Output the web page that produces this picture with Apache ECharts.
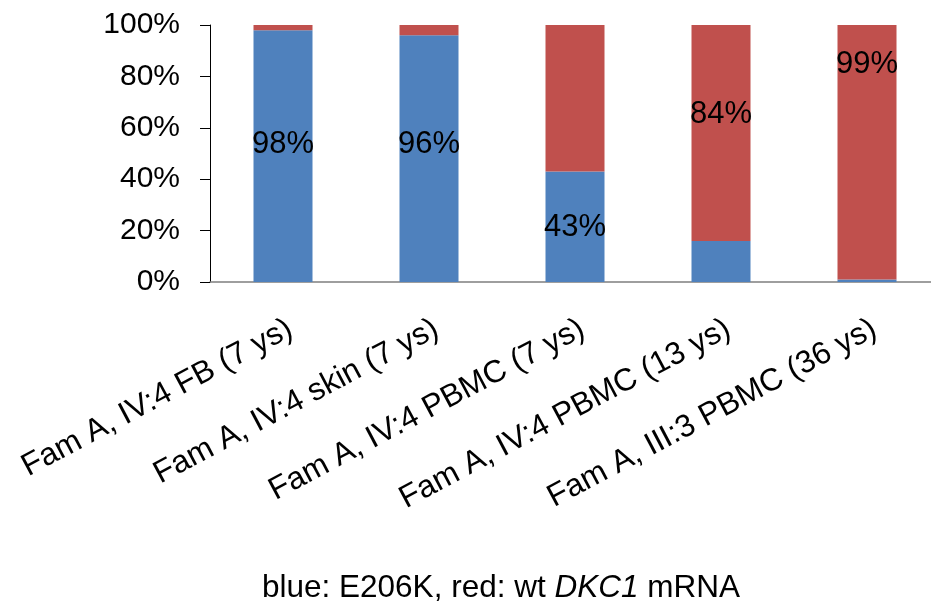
<!DOCTYPE html>
<html>
<head>
<meta charset="utf-8">
<script src="https://cdn.jsdelivr.net/npm/echarts@6/dist/echarts.min.js"></script>
<style>
  html, body { margin: 0; padding: 0; background: #ffffff; overflow: hidden; }
  #chart { width: 940px; height: 604px; }
</style>
</head>
<body>
<div id="chart"></div>
<script>
// Sample groups (x axis)
const categories = [
  'Fam A, IV:4 FB (7 ys)',
  'Fam A, IV:4 skin (7 ys)',
  'Fam A, IV:4 PBMC (7 ys)',
  'Fam A, IV:4 PBMC (13 ys)',
  'Fam A, III:3 PBMC (36 ys)'
];
// Share of E206K transcripts (blue), percent
const mutantShare = [98, 96, 43, 16, 1];
// Share of wild-type DKC1 transcripts (red), percent
const wildTypeShare = [2, 4, 57, 84, 99];
// Which value is printed on each bar
const showMutantLabel = [true, true, true, false, false];
const showWildTypeLabel = [false, false, false, true, true];
// Vertical nudges (px) for the printed values
const mutantLabelNudge = [-12, -14, 1, 0, 0];
const wildTypeLabelNudge = [0, 0, 0, -18, -88];
// Value axis ticks
const yTicks = [0, 20, 40, 60, 80, 100];

const FONT = '"Liberation Sans", Arial, sans-serif';
const BLUE = '#4F81BD';
const RED = '#C0504D';

function buildData(values, shown, nudges) {
  return values.map((v, i) => ({
    value: v,
    label: { show: shown[i], offset: [0, nudges[i]] }
  }));
}

const valueLabel = {
  position: 'inside',
  fontFamily: FONT,
  fontSize: 31,
  color: '#000',
  formatter: p => p.value + '%'
};

const chart = echarts.init(document.getElementById('chart'));
chart.setOption({
  animation: false,
  backgroundColor: '#ffffff',
  title: {
    text: '{n|blue: E206K, red: wt }{i|DKC1}{n| mRNA}',
    left: 262,
    top: 572,
    padding: 0,
    textStyle: {
      fontWeight: 'normal',
      rich: {
        n: { fontFamily: FONT, fontSize: 31.5, fontWeight: 'normal', color: '#000', lineHeight: 32 },
        i: { fontFamily: FONT, fontSize: 31.5, fontWeight: 'normal', color: '#000', fontStyle: 'italic', lineHeight: 32 }
      }
    }
  },
  grid: { left: 210, top: 25, right: 0, bottom: 322, containLabel: false },
  xAxis: {
    type: 'category',
    data: categories,
    axisLine: { show: true, lineStyle: { color: '#7f7f7f', width: 1.5 } },
    axisTick: { show: false },
    axisLabel: {
      interval: 0,
      rotate: 28,
      align: 'right',
      verticalAlign: 'top',
      margin: 31,
      fontFamily: FONT,
      fontSize: 31.5,
      color: '#000'
    }
  },
  yAxis: {
    type: 'value',
    min: yTicks[0],
    max: yTicks[yTicks.length - 1],
    interval: yTicks[1] - yTicks[0],
    axisLine: { show: true, lineStyle: { color: '#000', width: 1 } },
    axisTick: { show: true, length: 10, lineStyle: { color: '#000' } },
    splitLine: { show: false },
    axisLabel: {
      margin: 30,
      fontFamily: FONT,
      fontSize: 30,
      color: '#000',
      formatter: '{value}%'
    }
  },
  series: [
    {
      name: 'E206K',
      type: 'bar',
      stack: 'share',
      barWidth: 59,
      itemStyle: { color: BLUE },
      label: valueLabel,
      data: buildData(mutantShare, showMutantLabel, mutantLabelNudge)
    },
    {
      name: 'wt DKC1',
      type: 'bar',
      stack: 'share',
      barWidth: 59,
      itemStyle: { color: RED },
      label: valueLabel,
      data: buildData(wildTypeShare, showWildTypeLabel, wildTypeLabelNudge)
    }
  ]
});
</script>
</body>
</html>
